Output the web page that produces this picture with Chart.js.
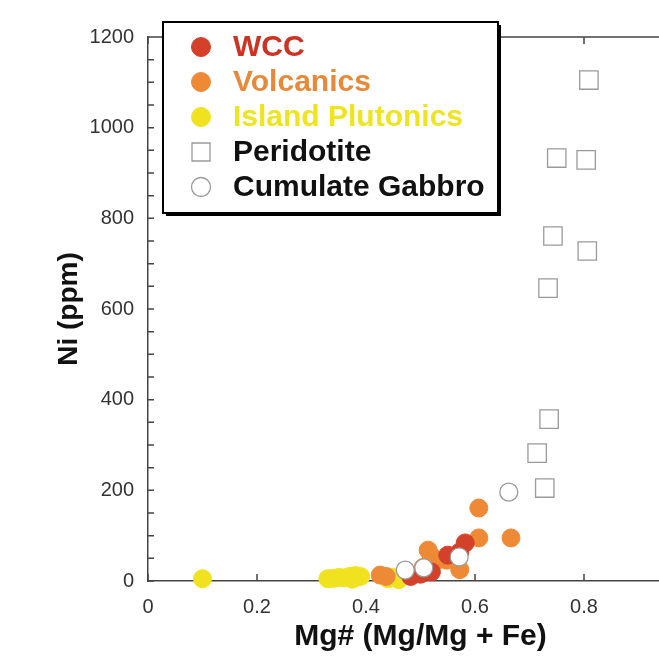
<!DOCTYPE html>
<html>
<head>
<meta charset="utf-8">
<script src="https://cdn.jsdelivr.net/npm/chart.js@4"></script>
<style>
  html, body { margin: 0; padding: 0; background: #fff; overflow: hidden; }
  .wrap { width: 659px; height: 661px; overflow: hidden; }
</style>
</head>
<body>
<div class="wrap">
  <canvas id="myChart" width="700" height="661"></canvas>
</div>
<script>
// values: [Mg#, Ni ppm]
const wcc = [[0.482, 10], [0.50, 15], [0.52, 20], [0.55, 57], [0.572, 64], [0.582, 84]]
const volcanics = [
  [0.426, 13], [0.437, 10], [0.505, 30], [0.514, 68], [0.53, 45], [0.548, 46],
  [0.52, 55], [0.572, 25], [0.607, 95], [0.607, 161], [0.666, 95]
]
const islandPlutonics = [
  [0.10, 5], [0.33, 5], [0.34, 6], [0.35, 8], [0.36, 7], [0.37, 10], [0.375, 4],
  [0.38, 12], [0.39, 10], [0.44, 5], [0.45, 8], [0.46, 3]
]
const peridotite = [
  [0.809, 1105], [0.750, 933], [0.804, 929], [0.743, 761], [0.806, 728],
  [0.734, 646], [0.736, 357], [0.714, 282], [0.728, 205]
]
const cumulateGabbro = [[0.472, 24], [0.506, 29], [0.571, 53], [0.662, 196]]

const xTicks = [0, 0.2, 0.4, 0.6, 0.8, 1]
const yTicks = [0, 200, 400, 600, 800, 1000, 1200]
const yMinorStep = 50

const FONT = '"Liberation Sans", Arial, sans-serif'
const AXIS = '#444'

const toPoints = arr => arr.map(([x, y]) => ({ x, y }))

const series = [
  { label: 'WCC', data: wcc, color: '#d4402a', text: '#cc3325', style: 'circle', fill: true, order: 3 },
  { label: 'Volcanics', data: volcanics, color: '#ee8a36', text: '#e8893a', style: 'circle', fill: true, order: 4 },
  { label: 'Island Plutonics', data: islandPlutonics, color: '#f0e21e', text: '#eee420', style: 'circle', fill: true, order: 5 },
  { label: 'Peridotite', data: peridotite, color: '#9a9a9a', text: '#111', style: 'rect', fill: false, order: 2 },
  { label: 'Cumulate Gabbro', data: cumulateGabbro, color: '#9a9a9a', text: '#111', style: 'circle', fill: false, order: 1 }
]

const datasets = series.map(s => ({
  label: s.label,
  data: toPoints(s.data),
  pointStyle: s.style,
  pointRadius: s.style === 'rect' ? 13 : 9,
  pointBackgroundColor: s.fill ? s.color : '#fff',
  pointBorderColor: s.color,
  pointBorderWidth: s.fill ? 1 : 1.3,
  order: s.order,
  clip: false
}))

// inward ticks, minor ticks and the top/right frame lines
const frame = {
  id: 'frame',
  beforeDatasetsDraw(chart) {
    const { ctx, chartArea: a, scales: { x, y } } = chart
    ctx.save()
    ctx.strokeStyle = AXIS
    ctx.lineWidth = 1.5
    ctx.beginPath()
    ctx.moveTo(a.left, a.top)
    ctx.lineTo(a.right, a.top)
    ctx.lineTo(a.right, a.bottom)
    xTicks.forEach(v => {
      const px = x.getPixelForValue(v)
      ctx.moveTo(px, a.bottom); ctx.lineTo(px, a.bottom - 7)
      ctx.moveTo(px, a.top); ctx.lineTo(px, a.top + 7)
    })
    for (let v = 0; v <= 1200; v += yMinorStep) {
      const py = y.getPixelForValue(v)
      ctx.moveTo(a.left, py); ctx.lineTo(a.left + 6, py)
    }
    ctx.stroke()
    ctx.restore()
  }
}

// boxed legend sitting inside the plot
const boxLegend = {
  id: 'boxLegend',
  afterDraw(chart) {
    const { ctx } = chart
    const bx = 163, by = 22, bw = 335, bh = 191
    ctx.save()
    ctx.fillStyle = '#000'
    ctx.fillRect(bx + 3, by + 3, bw, bh)
    ctx.fillStyle = '#fff'
    ctx.fillRect(bx, by, bw, bh)
    ctx.strokeStyle = '#000'
    ctx.lineWidth = 2
    ctx.strokeRect(bx, by, bw, bh)
    ctx.font = 'bold 30px ' + FONT
    ctx.textBaseline = 'middle'
    series.forEach((s, i) => {
      const cy = 47 + i * 35
      const mx = 201
      ctx.beginPath()
      if (s.style === 'rect') {
        ctx.rect(mx - 9, cy - 9, 18, 18)
      } else {
        ctx.arc(mx, cy, 9.5, 0, Math.PI * 2)
      }
      ctx.fillStyle = s.fill ? s.color : '#fff'
      ctx.fill()
      ctx.strokeStyle = s.color
      ctx.lineWidth = s.fill ? 1 : 1.3
      ctx.stroke()
      ctx.fillStyle = s.text
      ctx.fillText(s.label, 233, cy + 1)
    })
    ctx.restore()
  }
}

const ctx = document.getElementById('myChart').getContext('2d')
new Chart(ctx, {
  type: 'scatter',
  data: { datasets },
  plugins: [frame, boxLegend],
  options: {
    responsive: false,
    animation: false,
    events: [],
    layout: { autoPadding: false, padding: { top: 37, left: 0, right: 7, bottom: 0 } },
    plugins: { legend: { display: false }, tooltip: { enabled: false } },
    scales: {
      x: {
        type: 'linear',
        min: 0,
        max: 1,
        afterBuildTicks: scale => { scale.ticks = xTicks.map(value => ({ value })) },
        afterFit: scale => {
          scale.height = 80
          scale.paddingLeft = 0
          scale.paddingRight = 0
        },
        grid: { display: false, drawTicks: false },
        border: { display: true, color: AXIS, width: 1.5 },
        ticks: {
          padding: 14,
          color: '#333',
          font: { family: FONT, size: 20 },
          callback: v => (v === 0 || v === 1) ? String(v) : v.toFixed(1)
        },
        title: {
          display: true,
          text: 'Mg# (Mg/Mg + Fe)',
          color: '#111',
          font: { family: FONT, size: 30, weight: 'bold' },
          padding: { top: 0, bottom: 6 }
        }
      },
      y: {
        type: 'linear',
        min: 0,
        max: 1200,
        afterBuildTicks: scale => { scale.ticks = yTicks.map(value => ({ value })) },
        afterFit: scale => {
          scale.width = 148
          scale.paddingTop = 0
          scale.paddingBottom = 0
        },
        grid: { display: false, drawTicks: false },
        border: { display: true, color: AXIS, width: 1.5 },
        ticks: {
          padding: 14,
          color: '#333',
          font: { family: FONT, size: 20 },
          callback: v => String(v)
        },
        title: {
          display: true,
          text: 'Ni (ppm)',
          color: '#111',
          font: { family: FONT, size: 28, weight: 'bold' },
          padding: { top: 52, bottom: 0 }
        }
      }
    }
  }
})
</script>
</body>
</html>
